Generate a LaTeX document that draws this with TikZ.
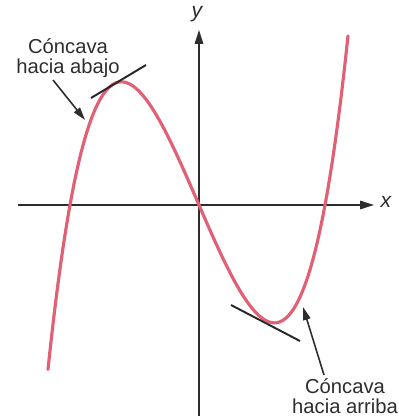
\documentclass[tikz,border=0pt]{standalone}
\usepackage{fontspec}
\setmainfont{Liberation Sans}
\usetikzlibrary{arrows.meta}
\definecolor{curva}{RGB}{226,96,117}
\definecolor{tinta}{RGB}{45,45,45}

\begin{document}
\begin{tikzpicture}[
  x = 0.02cm, y = 0.02cm,
  eje/.style    = {draw=tinta, line width=0.9pt, -{Triangle[length=0.28cm, width=0.17cm]}},
  tang/.style   = {draw=black!85, line width=1.1pt},
  flecha/.style = {draw=tinta, line width=0.9pt, -{Triangle[length=0.26cm, width=0.15cm]}},
  etiq/.style   = {align=center, text=tinta, inner sep=0pt,
                   font=\fontsize{11.5}{11.4}\selectfont},
  varlbl/.style = {text=tinta, inner sep=0pt, font=\fontsize{12}{12}\selectfont\itshape},
  graf/.style   = {draw=curva, line width=1.8pt, line cap=round},
]
\useasboundingbox (0,0) rectangle (399,416);

%% ─── axes ─────────────────────────────────────────────────────────────────
\coordinate (O) at (199,211);
\draw[eje] (18,211) -- (374,211);
\draw[eje] (199,0) -- (199,386);
\node[varlbl] (ejex) at (386,214) {x};
\node[varlbl] (ejey) at (197,402) {y};

%% ─── curve ────────────────────────────────────────────────────────────────
\draw[graf] plot[domain=-1.51:1.49, samples=120, smooth]
  ({199+100*\x}, {211+142*\x*(\x+1.29)*(\x-1.26)*(1+0.1135*\x*\x)});

%% ─── tangent lines ────────────────────────────────────────────────────────
\foreach \a/\b in {{(91,318)}/{(146,351)}, {(231,111)}/{(300,75)}}
  \draw[tang] \a -- \b;

%% ─── labels and arrows ────────────────────────────────────────────────────
\node[etiq] (abajo)  at (68,358) {Cóncava\\hacia abajo};
\node[etiq] (arriba) at (345,20) {Cóncava\\hacia arriba};

\coordinate (pa) at (85,296);
\coordinate (pb) at (303,109);
\draw[flecha] (53,336) coordinate (sa) -- (pa);
\draw[flecha] (324,41) coordinate (sb) -- (pb);

\end{tikzpicture}
\end{document}
